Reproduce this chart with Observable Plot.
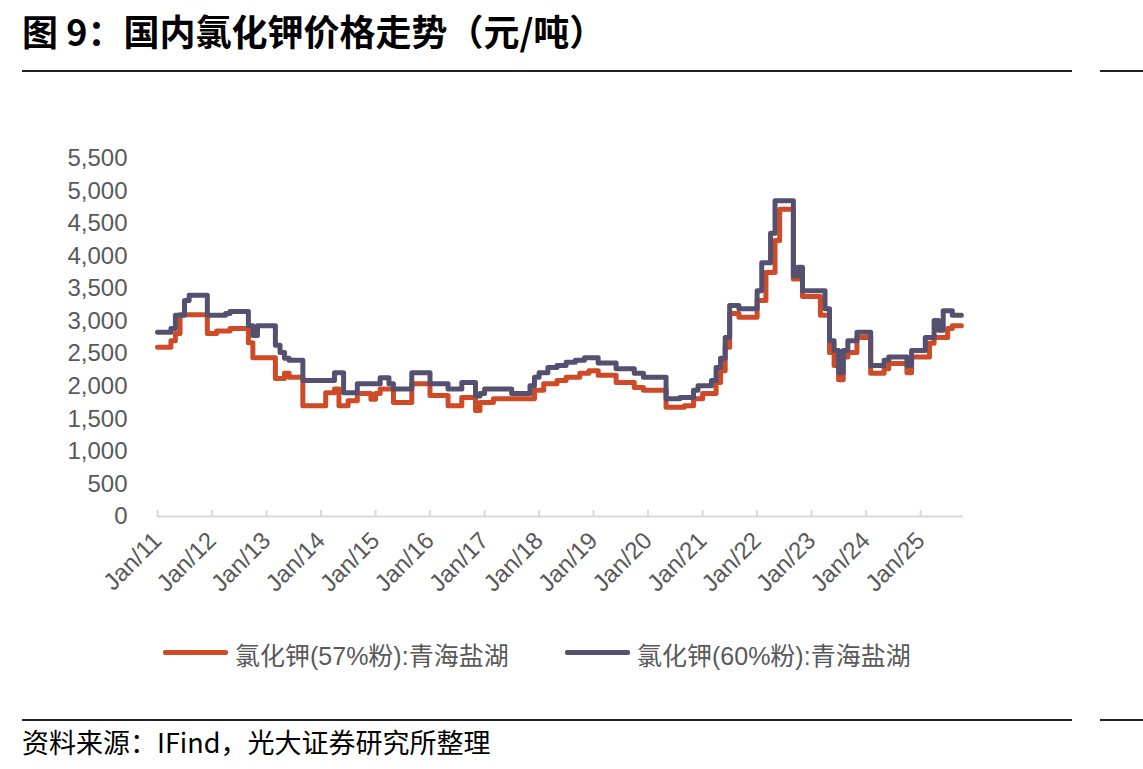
<!DOCTYPE html>
<html>
<head>
<meta charset="utf-8">
<script src="https://cdn.jsdelivr.net/npm/d3@7"></script>
<script src="https://cdn.jsdelivr.net/npm/@observablehq/plot@0.6"></script>
<style>
  html, body { margin: 0; padding: 0; background: #fff; }
  body { width: 1143px; height: 769px; position: relative; overflow: hidden;
         font-family: "Liberation Sans", Arial, "Noto Sans CJK SC", sans-serif; }
  #title { position: absolute; left: 22px; top: 4px; font-size: 36px; font-weight: bold;
           font-family: "Noto Sans CJK SC", sans-serif; color: #000; letter-spacing: 0px; }
  .rule { position: absolute; height: 2px; background: #222; }
  #chart { position: absolute; left: 0; top: 100px; }
  #legend { position: absolute; top: 636px; left: 0; width: 1143px; height: 34px;
            font-size: 25px; color: #595959; }
  .sw { position: absolute; top: 14px; height: 5px; border-radius: 2px; }
  .lt { position: absolute; top: 0px; white-space: nowrap; }
  #source { position: absolute; left: 22px; top: 722px; font-size: 27px; color: #000;
            font-family: "Noto Sans CJK SC", sans-serif; }
</style>
</head>
<body>
<div id="title">图 9：国内氯化钾价格走势（元/吨）</div>
<div class="rule" style="left:22px; width:1050px; top:70px;"></div>
<div class="rule" style="left:1100px; width:43px; top:70px;"></div>
<div id="chart"></div>
<div id="legend"></div>
<div class="rule" style="left:22px; width:1050px; top:719px;"></div>
<div class="rule" style="left:1100px; width:43px; top:719px;"></div>
<div id="source">资料来源：IFind，光大证券研究所整理</div>
<script>
// ---- data (change points of monthly step series, 元/吨) ----
const seriesNames = ["氯化钾(57%粉):青海盐湖", "氯化钾(60%粉):青海盐湖"];
const seriesColors = ["#CF4A26", "#55506F"];

const dates57 = ["2011-01","2011-04","2011-05","2011-06","2011-12","2012-02","2012-05","2012-09","2012-10",
  "2013-03","2013-05","2013-06","2013-09","2014-02","2014-04","2014-05","2014-07","2014-09","2014-12",
  "2015-01","2015-02","2015-05","2015-09","2016-01","2016-05","2016-08","2016-11","2016-12","2017-03",
  "2017-12","2018-02","2018-05","2018-07","2018-10","2018-12","2019-02","2019-06","2019-10","2019-12",
  "2020-05","2020-09","2020-11","2021-01","2021-04","2021-05","2021-06","2021-07","2021-09","2022-01",
  "2022-03","2022-05","2022-06","2022-09","2022-11","2023-03","2023-05","2023-06","2023-07","2023-08",
  "2023-09","2023-11","2024-02","2024-05","2024-06","2024-10","2024-11","2025-03","2025-04","2025-07","2025-08"];
const prices57 = [2600,2700,2810,3100,2810,2850,2890,2670,2440,
  2120,2200,2140,1700,1900,1960,1700,1780,1890,1800,
  1890,1960,1750,2040,1860,1700,1830,1630,1750,1810,
  1940,2040,2090,2140,2200,2240,2170,2060,1980,1940,
  1680,1700,1810,1890,2060,2240,2600,3120,3060,3320,
  3750,4240,4720,3650,3380,3090,2520,2320,2100,2450,
  2520,2750,2200,2270,2350,2210,2450,2660,2750,2890,2930];

const dates60 = ["2011-01","2011-04","2011-05","2011-07","2011-08","2011-12","2012-04","2012-05","2012-09",
  "2012-10","2012-11","2013-03","2013-04","2013-05","2013-06","2013-09","2014-04","2014-06","2014-09",
  "2015-02","2015-04","2015-05","2015-09","2016-01","2016-05","2016-08","2016-11","2016-12","2017-01",
  "2017-07","2017-11","2017-12","2018-01","2018-03","2018-05","2018-07","2018-09","2018-11","2019-02",
  "2019-06","2019-10","2019-12","2020-05","2020-08","2020-11","2020-12","2021-03","2021-04","2021-05",
  "2021-06","2021-07","2021-09","2022-01","2022-02","2022-04","2022-05","2022-09","2022-10","2022-11",
  "2023-04","2023-05","2023-06","2023-07","2023-08","2023-09","2023-11","2024-02","2024-05","2024-06",
  "2024-10","2024-11","2025-02","2025-04","2025-05","2025-06","2025-08"];
const prices60 = [2830,2890,3090,3320,3400,3090,3120,3150,2930,
  2780,2930,2630,2520,2430,2400,2090,2210,1900,2040,
  2130,2040,1960,2210,2040,1960,2060,1850,1890,1960,
  1890,2010,2140,2210,2290,2320,2370,2400,2440,2360,
  2270,2200,2140,1810,1830,1940,2010,2090,2290,2430,
  2750,3240,3190,3470,3900,4350,4850,3700,3830,3470,
  3190,2700,2550,2210,2550,2700,2830,2320,2400,2450,
  2320,2550,2750,3010,2860,3160,3090];

const endMonth = "2025-10";
const domainStart = "2011-01-01", domainEnd = "2025-10-15";
const yearTicks = ["2011","2012","2013","2014","2015","2016","2017","2018","2019","2020","2021","2022","2023","2024","2025"];
const yTicks = [0,500,1000,1500,2000,2500,3000,3500,4000,4500,5000,5500];

// ---- build tables ----
const parse = s => new Date(s + (s.length === 7 ? "-01T00:00:00Z" : "-01-01T00:00:00Z"));
function build(dates, prices, name) {
  const rows = dates.map((d, i) => ({date: parse(d), price: prices[i], series: name}));
  rows.push({date: parse(endMonth), price: prices[prices.length - 1], series: name});
  return rows;
}
const data57 = build(dates57, prices57, seriesNames[0]);
const data60 = build(dates60, prices60, seriesNames[1]);
const tickDates = yearTicks.map(parse);

const chart = Plot.plot({
  width: 1143,
  height: 520,
  marginLeft: 157,
  marginRight: 180,
  marginTop: 58,
  marginBottom: 104,
  style: {fontFamily: "'Liberation Sans', Arial, sans-serif", color: "#595959", background: "#fff"},
  x: {type: "utc", domain: [new Date(domainStart + "T00:00:00Z"), new Date(domainEnd + "T00:00:00Z")]},
  y: {domain: [0, 5500]},
  marks: [
    Plot.axisY({ticks: yTicks, tickFormat: d3.format(","), tickSize: 0, tickPadding: 30, fontSize: 24, label: null, fill: "#595959"}),
    Plot.axisX({ticks: tickDates, tickFormat: d3.utcFormat("%b/%y"), tickSize: 0, tickPadding: 20, tickRotate: -45, fontSize: 24, label: null, fill: "#595959"}),
    Plot.ruleY([0], {stroke: "#d9d9d9", strokeWidth: 2}),
    Plot.ruleX(tickDates, {y1: 0, y2: 0, insetTop: -6, stroke: "#d9d9d9", strokeWidth: 2}),
    Plot.line(data57, {x: "date", y: "price", curve: "step-after", stroke: seriesColors[0], strokeWidth: 5}),
    Plot.line(data60, {x: "date", y: "price", curve: "step-after", stroke: seriesColors[1], strokeWidth: 5})
  ]
});
document.getElementById("chart").appendChild(chart);

// ---- legend ----
const legend = document.getElementById("legend");
const legendPos = [[163, 235], [565, 637]];
seriesNames.forEach((name, i) => {
  const sw = document.createElement("div");
  sw.className = "sw";
  sw.style.left = legendPos[i][0] + "px";
  sw.style.width = "65px";
  sw.style.background = seriesColors[i];
  legend.appendChild(sw);
  const t = document.createElement("div");
  t.className = "lt";
  t.style.left = legendPos[i][1] + "px";
  t.textContent = name;
  legend.appendChild(t);
});
</script>
</body>
</html>
